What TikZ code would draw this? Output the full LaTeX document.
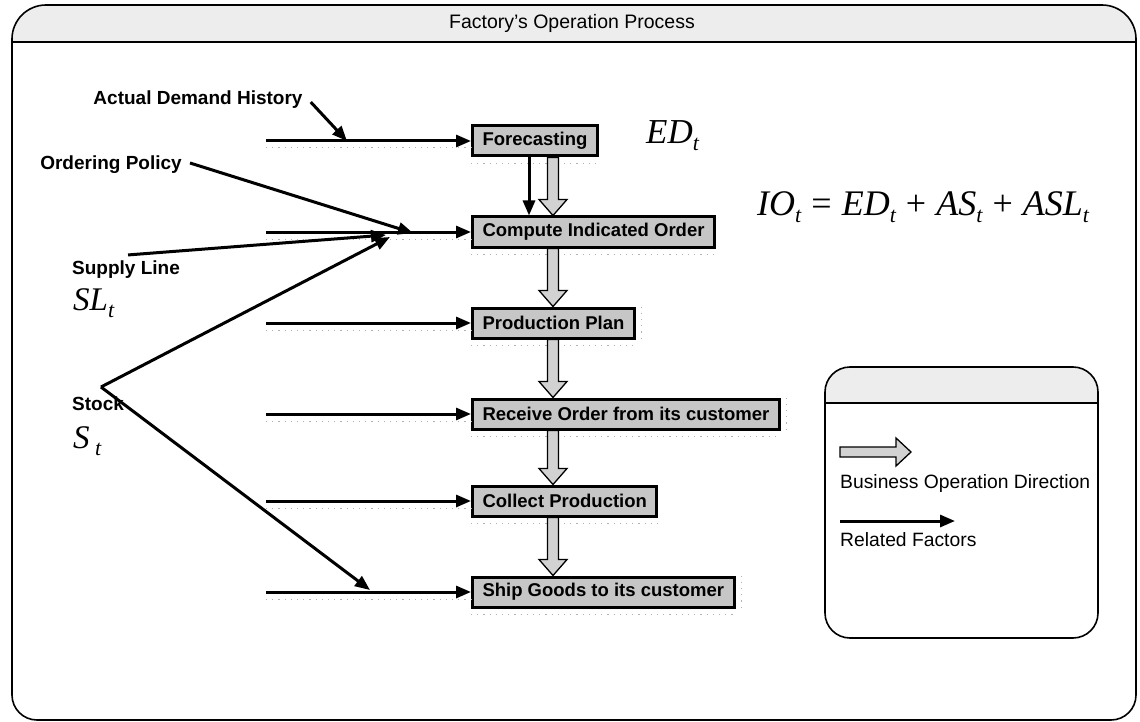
\documentclass[tikz,border=0pt]{standalone}
\usepackage{fontspec}
\setmainfont{Liberation Sans}
\newfontfamily\tms{Liberation Serif}
\usetikzlibrary{arrows.meta,calc}

\tikzset{
  every node/.style={inner sep=0pt},
  headfill/.style={fill=gray!14},
  framed/.style={line width=1.6pt},
  lbl/.style={font=\fontsize{19}{21}\selectfont\bfseries},
  plain/.style={font=\fontsize{19.3}{22}\selectfont},
  formula/.style={font=\fontsize{35}{38}\selectfont\tms\itshape},
  opbox/.style={draw, line width=3pt, fill=gray!45, anchor=west,
    font=\fontsize{18.5}{20}\selectfont\bfseries, inner xsep=10pt,
    minimum height=30pt},
  factor/.style={line width=3pt, -{Triangle[length=15pt,width=12pt]}},
  flow/.style={draw, line width=1.3pt, fill=gray!35, line join=miter},
  grain/.style={gray!60, line width=1pt, dash pattern=on 1.2pt off 5pt},
}

% lowered italic subscript used in the formulas
\newcommand\lowsub[1]{\raisebox{-7pt}{\fontsize{22}{24}\selectfont #1}}
% upright operator with wide spacing
\newcommand\opr[1]{\hspace{0.28em}{\upshape #1}\hspace{0.28em}}

% hollow block arrow pointing down, from #1 to #2
\newcommand\opflow[2]{%
  \path[flow] let \p1=(#1), \p2=(#2) in
    (\x1-5.5pt,\y1) -- (\x1+5.5pt,\y1) -- (\x1+5.5pt,\y2+16pt)
    -- (\x1+14pt,\y2+16pt) -- (\x1,\y2) -- (\x1-14pt,\y2+16pt)
    -- (\x1-5.5pt,\y2+16pt) -- cycle;}

\begin{document}
\begin{tikzpicture}[x=1pt,y=-1pt]
\useasboundingbox (0,0) rectangle (1140,722);

% outer frame with shaded title band
\def\outerframe{(12,380) [rounded corners=25pt] -- (12,720) -- (1136,720)
  -- (1136,380) [rounded corners=34pt] -- (1136,5) -- (12,5) -- cycle}
\begin{scope}
  \clip \outerframe;
  \fill[headfill] (0,0) rectangle (1140,42);
\end{scope}
\draw[framed] (12,42) -- (1136,42);
\draw[framed] \outerframe;
\node[font=\fontsize{19.5}{22}\selectfont] (title) at (572,23) {Factory's Operation Process};

% process steps
\node[opbox] (fc)  at (471,141) {Forecasting};
\node[opbox] (cio) at (471,232) {Compute Indicated Order};
\node[opbox] (pp)  at (471,323) {Production Plan};
\node[opbox] (ro)  at (471,414) {Receive Order from its customer};
\node[opbox] (cp)  at (471,501) {Collect Production};
\node[opbox] (sg)  at (471,592) {Ship Goods to its customer};

% guide positions
\coordinate (railx)  at (266,0);
\coordinate (spine)  at (553,0);
\coordinate (thinx)  at (529,0);

% input rails into each step, with their grain shadow
\foreach \b in {fc,cio,pp,ro,cp,sg} {
  \coordinate (\b-in) at (\b.west -| railx);
  \draw[grain] ([yshift=-7pt]\b-in) -- ([yshift=-7pt]\b.west);
  \draw[grain] ([yshift=-6pt]\b.south west) -- ([yshift=-6pt]\b.south east);
  \draw[factor] (\b-in) -- (\b.west);
}
\draw[grain] ([xshift=6pt]pp.north east) -- ([xshift=6pt]pp.south east);
\draw[grain] ([xshift=6pt]ro.north east) -- ([xshift=6pt]ro.south east);
\draw[grain] ([xshift=6pt]sg.north east) -- ([xshift=6pt]sg.south east);

% business operation direction
\opflow{fc.south -| spine}{cio.north -| spine}
\opflow{cio.south -| spine}{pp.north -| spine}
\opflow{pp.south -| spine}{ro.north -| spine}
\opflow{ro.south -| spine}{cp.north -| spine}
\opflow{cp.south -| spine}{sg.north -| spine}
\draw[factor] (fc.south -| thinx) -- (cio.north -| thinx);

% related factors
\node[lbl] (adh) at (198,100) {Actual Demand History};
\node[lbl, anchor=east] (op) at (182,165) {Ordering Policy};
\node[lbl, anchor=west] (sl) at (72,270) {Supply Line};
\node[lbl, anchor=west] (stk) at (72,404) {Stock};
\node[formula, anchor=west, font=\fontsize{33}{36}\selectfont\tms\itshape] (slt) at (73,303) {SL\lowsub{t}};
\node[formula, anchor=west, font=\fontsize{33}{36}\selectfont\tms\itshape] (st) at (73,441) {S\,\lowsub{t}};

\coordinate (adhjoin) at (347,141);
\coordinate (opjoin)  at (413,233);
\coordinate (sljoin)  at (386,235);
\coordinate (stkup)   at (390,237);
\coordinate (stkdown) at (370,590);
\coordinate (stockv)  at (101,387);

\draw[factor] ([shift={(8,-7)}]adh.south east) -- (adhjoin);
\draw[factor] ([shift={(8,-2)}]op.east) -- (opjoin);
\draw[factor] ([xshift=2pt,yshift=6pt]sl.north) -- (sljoin);
\draw[factor] (stockv) -- (stkup);
\draw[factor] (stockv) -- (stkdown);

% formulas
\node[formula, anchor=west] (edt) at (646,136) {ED\lowsub{t}};
\node[formula, anchor=west, font=\fontsize{36}{40}\selectfont\tms\itshape] (iot) at (757,207)
  {IO\lowsub{t}\opr{=}ED\lowsub{t}\opr{+}AS\lowsub{t}\opr{+}ASL\lowsub{t}};

% legend
\def\legendframe{(825,367) rectangle (1098,638)}
\begin{scope}
  \clip[rounded corners=25pt] \legendframe;
  \fill[headfill] (825,367) rectangle (1098,403);
\end{scope}
\draw[line width=1.4pt] (825,403) -- (1098,403);
\draw[line width=1.6pt, rounded corners=25pt] \legendframe;

\path[flow] (840,447) -- (896,447) -- (896,438) -- (911,452) -- (896,466)
  -- (896,457) -- (840,457) -- cycle;
\node[plain, anchor=west] (bod) at (840,484) {Business Operation Direction};
\coordinate (lga) at (840,521);
\coordinate (lgb) at (955,521);
\draw[factor] (lga) -- (lgb);
\node[plain, anchor=west] (rf) at (840,540) {Related Factors};
\end{tikzpicture}
\end{document}
